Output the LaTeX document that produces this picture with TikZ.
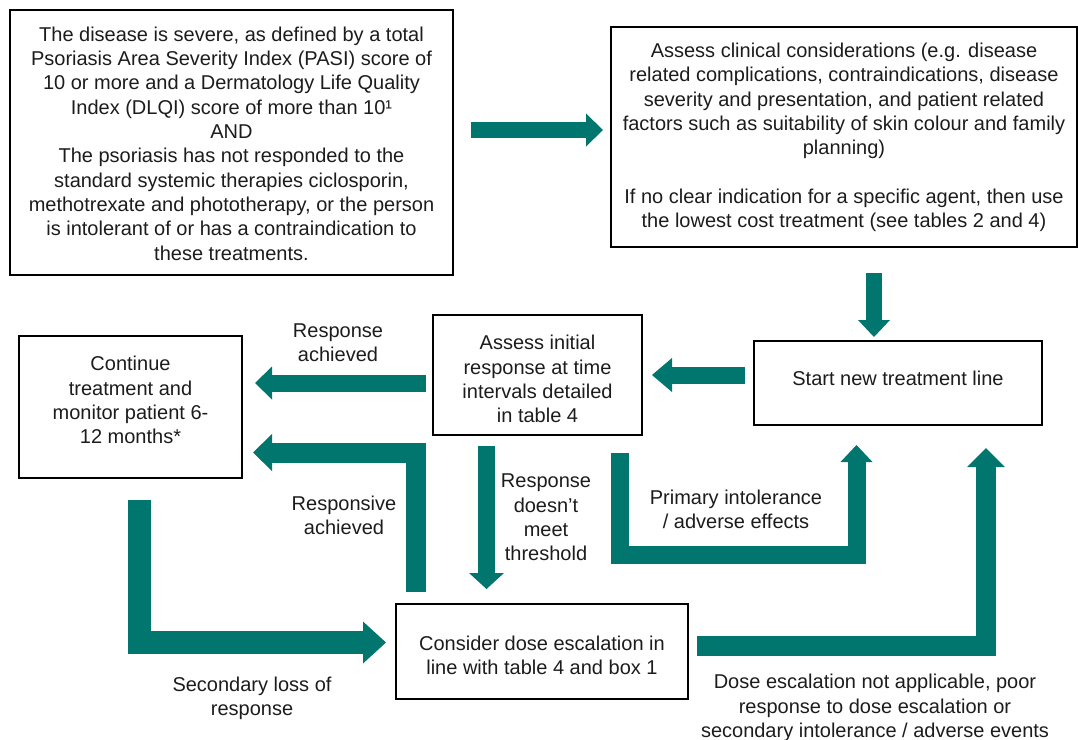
\documentclass[tikz,border=0pt]{standalone}
\usepackage{fontspec}
\setmainfont{Liberation Sans}
\usepackage{xcolor}
\usepackage{tikz}
\usetikzlibrary{arrows.meta,calc}
\definecolor{flowteal}{RGB}{0,118,110}
\definecolor{inkgray}{RGB}{28,28,28}

\begin{document}
\begin{tikzpicture}[x=0.5pt, y=-0.5pt,
    box/.style={draw=black, line width=1pt, inner sep=0pt, outer sep=0pt},
    txt/.style={align=center, inner sep=0pt, text=inkgray,
      font=\fontsize{10}{12.15}\selectfont},
    flow/.style n args={3}{draw=flowteal, line width=#1, line join=miter,
      -{Triangle[width=#2, length=#3, line width=0pt]}}]

  % Page frame
  \useasboundingbox (0,0) rectangle (1078,740);

  % Boxes
  \node[box, minimum width=221.5pt, minimum height=132.5pt] (crit) at (231.5,142.5) {};
  \node[box, minimum width=233pt, minimum height=110pt] (clin) at (844,137) {};
  \node[box, minimum width=144pt, minimum height=42pt] (start) at (898,383) {};
  \node[box, minimum width=104.5pt, minimum height=60pt] (init) at (537.5,375) {};
  \node[box, minimum width=111.5pt, minimum height=71pt] (cont) at (130.5,407) {};
  \node[box, minimum width=146pt, minimum height=47.5pt] (dose) at (542,651.5) {};

  % Box texts
  \node[txt] (crit-t) at (231.5,143.5) {The disease is severe, as defined by a total\\
    Psoriasis Area Severity Index (PASI) score of\\
    10 or more and a Dermatology Life Quality\\
    Index (DLQI) score of more than 10¹\\
    AND\\
    The psoriasis has not responded to the\\
    standard systemic therapies ciclosporin,\\
    methotrexate and phototherapy, or the person\\
    is intolerant of or has a contraindication to\\
    these treatments.};
  \node[txt] (clin-t) at (844,137.5) {Assess clinical considerations (e.g. disease\\
    related complications, contraindications, disease\\
    severity and presentation, and patient related\\
    factors such as suitability of skin colour and family\\
    planning)\\[12.15pt]
    If no clear indication for a specific agent, then use\\
    the lowest cost treatment (see tables 2 and 4)};
  \node[txt] (start-t) at (898,378) {Start new treatment line};
  \node[txt] (init-t) at (537.5,379) {Assess initial\\response at time\\intervals detailed\\in table 4};
  \node[txt] (cont-t) at (130.5,400) {Continue\\treatment and\\monitor patient 6-\\12 months*};
  \node[txt] (dose-t) at (542,655) {Consider dose escalation in\\line with table 4 and box 1};

  % Arrows
  \draw[flow={8pt}{16.5pt}{8.5pt}] ($(crit.east)+(18,-12.5)$) -- ($(clin.west)+(-8,-7)$);
  \draw[flow={8pt}{16pt}{8.5pt}] ($(clin.south)+(30,26)$) -- ($(start.north)+(-24,-4)$);
  \draw[flow={8.5pt}{17pt}{10pt}] ($(start.west)+(-9,-8)$) -- ($(init.east)+(10,0)$);
  \draw[flow={8.5pt}{16.5pt}{8.5pt}] ($(init.west)+(-7,8)$) -- ($(cont.east)+(13,-24)$);
  \draw[flow={10pt}{18.5pt}{9.5pt}] ($(dose.north west)+(20,-12)$) |- ($(cont.east)+(11,45.5)$);
  \draw[flow={8.5pt}{17.5pt}{8pt}] ($(init.south)+(-51,11)$) -- ($(dose.north)+(-55.5,-15)$);
  \draw[flow={9pt}{16pt}{8.5pt}] ($(init.south east)+(-22,18)$) -- ++(0,102) -| ($(start.south)+(-41.5,20)$);
  \draw[flow={10pt}{19pt}{9.5pt}] ($(dose.east)+(9,-6)$) -| ($(start.south east)+(-56,23)$);
  \draw[flow={11.5pt}{21pt}{11.5pt}] ($(cont.south)+(9,22)$) |- ($(dose.west)+(-10,-9)$);

  % Arrow labels
  \node[txt] (lbl-resp) at (338,343) {Response\\achieved};
  \node[txt] (lbl-respv) at (344,515) {Responsive\\achieved};
  \node[txt] (lbl-thr) at (546,517.5) {Response\\doesn’t\\meet\\threshold};
  \node[txt] (lbl-prim) at (736,509.5) {Primary intolerance\\/ adverse effects};
  \node[txt] (lbl-sec) at (252,698) {Secondary loss of\\response};
  \node[txt] (lbl-dose) at (875,708) {Dose escalation not applicable, poor\\
    response to dose escalation or\\
    secondary intolerance / adverse events};

\end{tikzpicture}
\end{document}
